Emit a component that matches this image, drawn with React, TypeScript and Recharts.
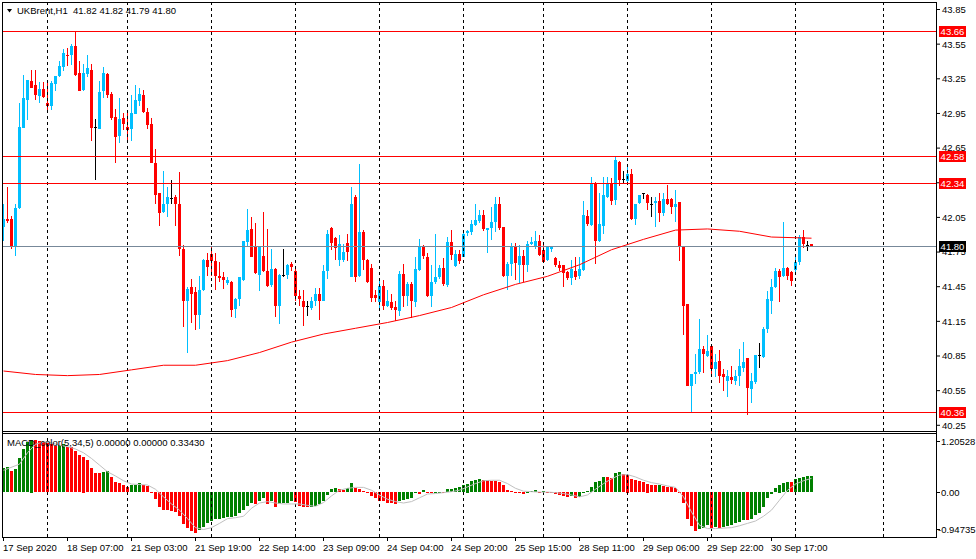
import React from 'react';
import { ComposedChart, Bar, Line, XAxis, YAxis, ReferenceLine } from 'recharts';

// H1 candles as [open, high, low, close], oldest first (17 Sep 2020 -> 30 Sep 2020)
const candles: number[][] = [
  [41.97, 42.17, 41.85, 42.04], [42.04, 42.31, 42.0, 42.02], [42.04, 42.06, 41.77, 41.8], [41.8, 42.17, 41.72, 42.13],
  [42.13, 43.04, 42.12, 42.83], [42.82, 43.28, 42.82, 43.08], [43.07, 43.24, 42.89, 43.24], [43.23, 43.33, 43.17, 43.17],
  [43.2, 43.33, 43.07, 43.11], [43.1, 43.22, 43.04, 43.16], [43.16, 43.22, 43.08, 43.09], [43.04, 43.23, 42.96, 43.01],
  [43.01, 43.23, 42.98, 43.21], [43.2, 43.27, 43.14, 43.27], [43.27, 43.4, 43.26, 43.36], [43.35, 43.51, 43.32, 43.47],
  [43.46, 43.52, 43.36, 43.45], [43.45, 43.55, 43.37, 43.53], [43.53, 43.66, 43.27, 43.28], [43.3, 43.4, 43.14, 43.14],
  [43.15, 43.38, 43.15, 43.3], [43.29, 43.46, 43.27, 43.34], [43.33, 43.38, 42.71, 42.83], [42.83, 42.9, 42.37, 42.83],
  [42.82, 43.23, 42.82, 43.14], [43.14, 43.35, 43.08, 43.3], [43.29, 43.3, 43.08, 43.11], [43.12, 43.14, 42.9, 42.91],
  [42.92, 42.99, 42.52, 42.75], [42.75, 43.08, 42.69, 42.9], [42.91, 42.95, 42.8, 42.86], [42.83, 42.95, 42.69, 42.8],
  [42.81, 43.11, 42.71, 42.95], [42.95, 43.2, 42.95, 43.07], [43.06, 43.17, 43.01, 43.12], [43.11, 43.15, 42.95, 42.96],
  [42.96, 43.0, 42.82, 42.85], [42.86, 42.91, 42.52, 42.52], [42.52, 42.64, 42.16, 42.24], [42.26, 42.26, 41.97, 42.09],
  [42.1, 42.45, 42.09, 42.17], [42.17, 42.31, 42.05, 42.23], [42.22, 42.37, 42.16, 42.22], [42.23, 42.24, 41.97, 42.17],
  [42.17, 42.44, 41.71, 41.78], [41.78, 41.81, 41.1, 41.33], [41.33, 41.45, 40.88, 41.43], [41.45, 41.52, 41.14, 41.39],
  [41.4, 41.45, 41.08, 41.2], [41.2, 41.54, 41.08, 41.42], [41.42, 41.69, 41.41, 41.68], [41.68, 41.74, 41.54, 41.62],
  [41.73, 41.8, 41.54, 41.67], [41.67, 41.74, 41.42, 41.54], [41.54, 41.66, 41.49, 41.52], [41.53, 41.58, 41.43, 41.5],
  [41.48, 41.53, 41.46, 41.51], [41.49, 41.5, 41.19, 41.25], [41.25, 41.35, 41.18, 41.34], [41.34, 41.53, 41.28, 41.53],
  [41.51, 41.85, 41.5, 41.85], [41.84, 42.12, 41.8, 41.94], [41.95, 42.05, 41.7, 41.71], [41.8, 42.0, 41.56, 41.57],
  [41.55, 41.79, 41.41, 41.79], [41.72, 42.1, 41.58, 41.59], [41.59, 41.95, 41.45, 41.46], [41.46, 41.78, 41.45, 41.6],
  [41.6, 41.61, 41.19, 41.28], [41.28, 41.56, 41.13, 41.55], [41.55, 41.78, 41.54, 41.55], [41.55, 41.65, 41.52, 41.64],
  [41.65, 41.66, 41.58, 41.62], [41.59, 41.6, 41.32, 41.37], [41.37, 41.42, 41.28, 41.34], [41.33, 41.42, 41.11, 41.28],
  [41.28, 41.33, 41.2, 41.28], [41.27, 41.36, 41.25, 41.33], [41.33, 41.44, 41.28, 41.39], [41.39, 41.44, 41.16, 41.33],
  [41.33, 41.64, 41.33, 41.59], [41.59, 41.94, 41.52, 41.91], [41.96, 41.97, 41.77, 41.83], [41.87, 41.88, 41.68, 41.78],
  [41.68, 41.9, 41.63, 41.82], [41.68, 41.82, 41.66, 41.75], [41.83, 41.91, 41.68, 41.75], [41.54, 42.31, 41.53, 42.17],
  [42.23, 42.24, 41.49, 41.54], [41.54, 42.51, 41.53, 41.92], [41.92, 41.94, 41.59, 41.68], [41.68, 41.69, 41.48, 41.49],
  [41.61, 41.65, 41.32, 41.35], [41.38, 41.42, 41.32, 41.35], [41.32, 41.51, 41.25, 41.46], [41.46, 41.51, 41.25, 41.29],
  [41.29, 41.42, 41.27, 41.33], [41.32, 41.39, 41.25, 41.27], [41.27, 41.33, 41.16, 41.24], [41.24, 41.59, 41.2, 41.56],
  [41.56, 41.65, 41.28, 41.37], [41.37, 41.49, 41.28, 41.47], [41.47, 41.49, 41.18, 41.32], [41.31, 41.71, 41.28, 41.6],
  [41.59, 41.86, 41.58, 41.8], [41.8, 41.81, 41.69, 41.71], [41.71, 41.74, 41.36, 41.37], [41.37, 41.64, 41.28, 41.49],
  [41.49, 41.91, 41.48, 41.53], [41.53, 41.64, 41.52, 41.61], [41.61, 41.7, 41.46, 41.47], [41.47, 41.88, 41.45, 41.84],
  [41.84, 41.94, 41.68, 41.73], [41.63, 41.77, 41.62, 41.73], [41.73, 41.77, 41.65, 41.67], [41.71, 41.94, 41.71, 41.91],
  [41.91, 41.94, 41.89, 41.93], [41.92, 42.03, 41.9, 41.99], [41.99, 42.17, 41.98, 42.03], [42.02, 42.11, 42.0, 42.07],
  [42.07, 42.11, 41.93, 41.95], [41.94, 41.96, 41.74, 41.96], [41.96, 42.14, 41.85, 42.01], [42.01, 42.23, 41.93, 42.17],
  [42.17, 42.23, 41.94, 41.96], [41.97, 41.97, 41.54, 41.55], [41.55, 41.66, 41.42, 41.65], [41.64, 41.83, 41.54, 41.8],
  [41.8, 41.83, 41.51, 41.65], [41.64, 41.81, 41.48, 41.72], [41.72, 41.77, 41.49, 41.64], [41.64, 41.85, 41.58, 41.82],
  [41.82, 41.88, 41.81, 41.84], [41.81, 41.93, 41.77, 41.85], [41.85, 41.9, 41.72, 41.73], [41.77, 41.81, 41.65, 41.67],
  [41.68, 41.8, 41.67, 41.8], [41.77, 41.8, 41.75, 41.8], [41.7, 41.71, 41.62, 41.64], [41.64, 41.67, 41.58, 41.61],
  [41.64, 41.64, 41.45, 41.57], [41.58, 41.59, 41.51, 41.53], [41.52, 41.68, 41.46, 41.6], [41.59, 41.71, 41.51, 41.54],
  [41.54, 41.71, 41.52, 41.6], [41.59, 42.19, 41.58, 42.07], [42.06, 42.11, 41.97, 41.99], [41.99, 42.4, 41.98, 42.35],
  [42.35, 42.36, 41.65, 41.85], [41.84, 42.26, 41.84, 41.99], [41.97, 42.4, 41.91, 42.24], [42.23, 42.4, 42.22, 42.35],
  [42.35, 42.39, 42.16, 42.19], [42.2, 42.58, 42.16, 42.55], [42.53, 42.54, 42.32, 42.37], [42.38, 42.45, 42.34, 42.38],
  [42.37, 42.49, 42.36, 42.43], [42.43, 42.47, 42.03, 42.04], [42.04, 42.17, 41.99, 42.17], [42.17, 42.24, 42.16, 42.24],
  [42.26, 42.26, 42.21, 42.26], [42.24, 42.25, 42.11, 42.17], [42.17, 42.23, 42.06, 42.17], [42.17, 42.23, 41.97, 42.19],
  [42.19, 42.26, 42.01, 42.09], [42.09, 42.26, 42.06, 42.21], [42.21, 42.33, 42.16, 42.17], [42.21, 42.22, 42.08, 42.14],
  [42.14, 42.29, 42.01, 42.17], [42.18, 42.18, 41.67, 41.79], [41.8, 41.8, 41.03, 41.28], [41.3, 41.3, 40.59, 40.59],
  [40.59, 40.69, 40.35, 40.69], [40.69, 40.87, 40.61, 40.71], [40.71, 41.17, 40.69, 40.91], [40.91, 40.94, 40.71, 40.87],
  [40.85, 41.03, 40.84, 40.89], [40.94, 40.94, 40.68, 40.74], [40.74, 40.87, 40.67, 40.8], [40.81, 40.9, 40.61, 40.68],
  [40.69, 40.74, 40.55, 40.66], [40.64, 40.73, 40.5, 40.68], [40.67, 40.76, 40.6, 40.64], [40.64, 40.73, 40.6, 40.68],
  [40.67, 40.91, 40.59, 40.76], [40.75, 40.97, 40.71, 40.8], [40.83, 40.83, 40.34, 40.57], [40.56, 40.7, 40.44, 40.63],
  [40.63, 40.86, 40.61, 40.86], [40.86, 40.96, 40.74, 40.86], [40.84, 41.1, 40.83, 41.08], [41.08, 41.41, 41.05, 41.34],
  [41.33, 41.52, 41.22, 41.45], [41.45, 41.61, 41.44, 41.59], [41.59, 41.6, 41.31, 41.54], [41.54, 42.01, 41.53, 41.61],
  [41.61, 41.62, 41.51, 41.54], [41.58, 41.59, 41.46, 41.5], [41.59, 41.72, 41.58, 41.66], [41.66, 41.9, 41.64, 41.88],
  [41.88, 41.94, 41.78, 41.82], [41.81, 41.85, 41.76, 41.81], [41.82, 41.82, 41.79, 41.8],
];

// red moving average, read at [bar, price]
const maPoints: number[][] = [
  [0, 40.72], [8, 40.69], [16, 40.68], [24, 40.69], [32, 40.73], [40, 40.77], [48, 40.77], [56, 40.81],
  [64, 40.88], [72, 40.97], [80, 41.04], [88, 41.09], [96, 41.14], [104, 41.2], [112, 41.27], [120, 41.38],
  [128, 41.47], [136, 41.54], [144, 41.64], [152, 41.77], [160, 41.86], [168, 41.94], [176, 41.95], [184, 41.93],
  [192, 41.88], [202, 41.87],
];

// MACD_color(5,34,5) histogram, one value per bar
const macdHist: number[] = [
  0.5, 0.52, 0.45, 0.48, 0.71, 0.91, 1.06, 1.11, 1.1, 1.08,
  1.05, 1.03, 1.01, 0.98, 1.0, 1.01, 0.96, 0.95, 0.87, 0.78,
  0.75, 0.68, 0.5, 0.41, 0.4, 0.43, 0.44, 0.32, 0.22, 0.2,
  0.15, 0.11, 0.14, 0.15, 0.2, 0.15, 0.13, -0.03, -0.15, -0.31,
  -0.38, -0.39, -0.4, -0.42, -0.51, -0.68, -0.77, -0.82, -0.87, -0.8,
  -0.73, -0.66, -0.61, -0.58, -0.56, -0.54, -0.53, -0.52, -0.51, -0.45,
  -0.38, -0.3, -0.23, -0.25, -0.19, -0.13, -0.25, -0.2, -0.32, -0.25,
  -0.24, -0.23, -0.2, -0.21, -0.3, -0.31, -0.32, -0.31, -0.3, -0.25,
  -0.18, -0.06, 0.07, 0.08, 0.06, 0.04, 0.08, 0.2, 0.08, 0.06,
  0.03, 0.01, -0.08, -0.13, -0.18, -0.2, -0.23, -0.24, -0.25, -0.18,
  -0.17, -0.15, -0.13, -0.03, -0.04, 0.04, -0.01, -0.03, -0.01, 0.0,
  -0.01, 0.06, 0.07, 0.08, 0.1, 0.15, 0.18, 0.23, 0.25, 0.27,
  0.26, 0.25, 0.24, 0.23, 0.22, 0.15, 0.04, 0.03, 0.0, -0.01,
  -0.04, -0.03, 0.02, 0.04, 0.01, 0.02, 0.01, -0.01, -0.04, -0.06,
  -0.08, -0.1, -0.08, -0.13, -0.1, -0.03, 0.03, 0.11, 0.22, 0.24,
  0.32, 0.31, 0.3, 0.41, 0.42, 0.38, 0.37, 0.27, 0.25, 0.24,
  0.21, 0.18, 0.15, 0.14, 0.15, 0.13, 0.11, 0.1, 0.09, -0.03,
  -0.24, -0.58, -0.72, -0.82, -0.79, -0.75, -0.7, -0.77, -0.73, -0.75,
  -0.73, -0.72, -0.7, -0.66, -0.63, -0.59, -0.6, -0.56, -0.49, -0.45,
  -0.31, -0.13, -0.04, 0.09, 0.16, 0.2, 0.22, 0.21, 0.27, 0.3,
  0.32, 0.33, 0.34,
];

// silver signal line, read at [bar, value]
const signalPoints: number[][] = [
  [0, 0.46], [4, 0.59], [6, 0.83], [8, 1.01], [10, 1.06], [12, 1.04], [14, 0.99], [16, 0.96], [18, 0.91],
  [20, 0.83], [22, 0.71], [24, 0.57], [26, 0.43], [28, 0.34], [30, 0.24], [32, 0.17], [34, 0.16], [36, 0.15],
  [38, 0.06], [40, -0.1], [42, -0.25], [44, -0.38], [46, -0.56], [48, -0.75], [50, -0.79], [52, -0.75],
  [54, -0.66], [56, -0.56], [58, -0.54], [60, -0.51], [62, -0.34], [64, -0.23], [66, -0.2], [68, -0.23],
  [70, -0.25], [72, -0.25], [74, -0.25], [76, -0.28], [78, -0.3], [80, -0.22], [82, -0.08], [84, 0.04],
  [86, 0.08], [88, 0.1], [90, 0.1], [92, 0.04], [94, -0.06], [96, -0.15], [98, -0.2], [100, -0.23],
  [102, -0.2], [104, -0.12], [106, -0.04], [108, -0.03], [110, -0.01], [112, 0.01], [114, 0.04], [116, 0.11],
  [118, 0.18], [120, 0.24], [122, 0.25], [124, 0.25], [126, 0.18], [128, 0.08], [130, 0.02], [132, 0.01],
  [134, 0.0], [136, 0.0], [138, -0.01], [140, -0.03], [142, -0.06], [144, -0.1], [146, -0.06], [148, 0.06],
  [150, 0.18], [152, 0.28], [154, 0.36], [156, 0.37], [158, 0.32], [160, 0.25], [162, 0.2], [164, 0.17],
  [166, 0.13], [168, 0.1], [170, -0.1], [172, -0.42], [174, -0.7], [176, -0.77], [178, -0.77], [180, -0.76],
  [182, -0.75], [184, -0.71], [186, -0.66], [188, -0.61], [190, -0.51], [192, -0.38], [194, -0.17], [196, 0.04],
  [198, 0.17], [200, 0.24], [202, 0.29],
];

const timeLabels = [
  '17 Sep 2020', '18 Sep 07:00', '21 Sep 03:00', '21 Sep 19:00', '22 Sep 14:00', '23 Sep 09:00', '24 Sep 04:00',
  '24 Sep 20:00', '25 Sep 15:00', '28 Sep 11:00', '29 Sep 06:00', '29 Sep 22:00', '30 Sep 17:00',
];
const labelBars = [0, 16, 32, 48, 64, 80, 96, 112, 128, 144, 160, 176, 192];
const daySeparators = [11, 31, 52, 73, 94, 115, 135, 156, 177, 198, 220];

const levels = [43.66, 42.58, 42.34, 40.36];
const lastPrice = 41.8;
const priceTicks = [43.85, 43.55, 43.25, 42.95, 42.65, 42.35, 42.05, 41.75, 41.45, 41.15, 40.85, 40.55, 40.25];
const macdTicks = [1.20528, 0, -0.94735];

const BLUE = '#00bfff';
const RED = '#ff0000';
const GREEN = '#008000';
const FONT = '"Liberation Sans", Arial, sans-serif';
const FS = 9.5;

const X_DOMAIN: [number, number] = [-0.375, 233.125];
const PRICE_DOMAIN: [number, number] = [40.2006, 43.915];

const priceRows: any[] = candles.map(([o, h, l, c], i) => ({ i, o, h, l, c, range: [l, h], ma: null }));
maPoints.forEach(([i, v]) => { priceRows[i].ma = v; });

const macdRows: any[] = macdHist.map((v, i) => ({ i, hist: v, up: i === 0 || v >= macdHist[i - 1], sig: null }));
signalPoints.forEach(([i, v]) => { macdRows[i].sig = v; });

const Candle = (props: any) => {
  const { x, y, width, height, payload } = props;
  if (!payload) return null;
  const { o, h, l, c } = payload;
  const top = Math.min(y, y + height);
  const span = Math.abs(height);
  const k = h > l ? span / (h - l) : 0;
  const yO = top + (h - o) * k;
  const yC = top + (h - c) * k;
  const color = c > o ? BLUE : c < o ? RED : '#000';
  const left = Math.round(x + width / 2 - 1.5);
  const bodyTop = Math.round(Math.min(yO, yC));
  const bodyH = c === o ? 1 : Math.max(1, Math.round(Math.abs(yC - yO)));
  return (
    <g>
      <rect x={left + 1} y={Math.round(top)} width={1} height={Math.max(1, Math.round(span))} fill={color} />
      <rect x={left} y={bodyTop} width={3} height={bodyH} fill={color} />
    </g>
  );
};

const HistBar = (props: any) => {
  const { x, y, width, height, payload } = props;
  if (!payload) return null;
  const top = Math.round(Math.min(y, y + height));
  const h = Math.max(1, Math.round(Math.abs(height)));
  return <rect x={Math.round(x + width / 2 - 1.5)} y={top} width={3} height={h} fill={payload.up ? GREEN : RED} />;
};

const CrispHLine = (props: any) => {
  const { x1, x2, y1, stroke } = props;
  const yy = Math.floor(y1) + 0.5;
  return <line x1={x1} x2={x2} y1={yy} y2={yy} stroke={stroke} strokeWidth={1} />;
};

const NoLine = () => null;

const priceTag = (text: string, bg: string) => (props: any) => {
  const vb = props.viewBox;
  if (!vb) return null;
  const yy = Math.floor(vb.y);
  return (
    <g>
      <rect x={939} y={yy - 5} width={27} height={11} fill={bg} />
      <text x={952.5} y={yy + 0.5} dy="0.35em" textAnchor="middle" fill="#fff" fontSize={FS} fontFamily={FONT}>
        {text}
      </text>
    </g>
  );
};

const MacdTick = (props: any) => {
  const { y, payload } = props;
  const v = payload.value;
  const yy = Math.round(y + (v > 0.5 ? 6 : v < -0.5 ? -8 : 0)) + 0.5;
  return (
    <g>
      <line x1={936} x2={940} y1={yy} y2={yy} stroke="#000" />
      <text x={v < 0 ? 938 : 941} y={yy} dy="0.35em" fontSize={FS} fill="#000" fontFamily={FONT}>
        {v === 0 ? '0.00' : v.toFixed(5)}
      </text>
    </g>
  );
};

const TimeTick = (props: any) => {
  const { x, payload } = props;
  const k = labelBars.indexOf(payload.value);
  const xx = Math.floor(x) + 0.5;
  return (
    <g>
      <line x1={xx} x2={xx} y1={104} y2={108} stroke="#000" />
      <text x={xx - 0.5} y={118} fontSize={FS} fill="#000" fontFamily={FONT}>
        {timeLabels[k]}
      </text>
    </g>
  );
};

const App: React.FC = () => {
  return (
    <div style={{ position: 'absolute', left: 0, top: 0, width: 976, height: 559, background: '#fff', overflow: 'hidden', fontFamily: FONT }}>
      <div style={{ position: 'absolute', left: 0, top: 0 }}>
        <ComposedChart width={976} height={433} data={priceRows} margin={{ top: 2, right: 0, bottom: 2, left: 2 }}>
          <XAxis type="number" dataKey="i" domain={X_DOMAIN} allowDataOverflow hide />
          <YAxis
            orientation="right"
            type="number"
            domain={PRICE_DOMAIN}
            allowDataOverflow
            ticks={priceTicks}
            interval={0}
            width={40}
            axisLine={false}
            tickSize={4}
            tickLine={{ stroke: '#000' }}
            tick={{ fontSize: FS, fill: '#000', fontFamily: FONT }}
            tickFormatter={(v: number) => v.toFixed(2)}
          />
          {daySeparators.map((d) => (
            <ReferenceLine key={`d-${d}`} x={d} stroke="#000" strokeDasharray="3 3" />
          ))}
          <ReferenceLine y={lastPrice} stroke="#778899" shape={CrispHLine} />
          {levels.map((lv) => (
            <ReferenceLine key={`l-${lv}`} y={lv} stroke={RED} shape={CrispHLine} />
          ))}
          <Bar dataKey="range" barSize={3} shape={Candle} isAnimationActive={false} />
          <Line dataKey="ma" type="linear" stroke={RED} strokeWidth={1} dot={false} activeDot={false} connectNulls isAnimationActive={false} />
        </ComposedChart>
      </div>
      {/* price tags sit above the axis labels, as in the terminal */}
      <div style={{ position: 'absolute', left: 0, top: 0 }}>
        <ComposedChart width={976} height={433} data={priceRows} margin={{ top: 2, right: 40, bottom: 2, left: 2 }}>
          <XAxis type="number" dataKey="i" domain={X_DOMAIN} allowDataOverflow hide />
          <YAxis type="number" domain={PRICE_DOMAIN} allowDataOverflow hide />
          <ReferenceLine y={lastPrice} stroke="#778899" shape={NoLine} label={priceTag(lastPrice.toFixed(2), '#000')} />
          {levels.map((lv) => (
            <ReferenceLine key={`t-${lv}`} y={lv} stroke={RED} shape={NoLine} label={priceTag(lv.toFixed(2), RED)} />
          ))}
        </ComposedChart>
      </div>
      <div style={{ position: 'absolute', left: 0, top: 433 }}>
        <ComposedChart width={976} height={126} data={macdRows} margin={{ top: 2, right: 0, bottom: 0, left: 2 }}>
          <XAxis
            type="number"
            dataKey="i"
            domain={X_DOMAIN}
            allowDataOverflow
            ticks={labelBars}
            interval={0}
            height={22}
            axisLine={false}
            tickLine={false}
            tick={<TimeTick />}
          />
          <YAxis
            orientation="right"
            type="number"
            domain={[macdTicks[2], macdTicks[0]]}
            allowDataOverflow
            ticks={macdTicks}
            interval={0}
            width={40}
            axisLine={false}
            tickLine={false}
            tick={<MacdTick />}
          />
          {daySeparators.map((d) => (
            <ReferenceLine key={`m-${d}`} x={d} stroke="#000" strokeDasharray="3 3" />
          ))}
          <Bar dataKey="hist" barSize={3} shape={HistBar} isAnimationActive={false} />
          <Line dataKey="sig" type="linear" stroke="#c0c0c0" strokeWidth={1} dot={false} activeDot={false} connectNulls isAnimationActive={false} />
        </ComposedChart>
      </div>
      <svg width={976} height={559} style={{ position: 'absolute', left: 0, top: 0, pointerEvents: 'none' }}>
        <g stroke="#000" strokeWidth={1}>
          <line x1={2.5} x2={2.5} y1={2} y2={538} />
          <line x1={936.5} x2={936.5} y1={2} y2={538} />
          <line x1={2} x2={937} y1={2.5} y2={2.5} />
          <line x1={2} x2={937} y1={431.5} y2={431.5} />
          <line x1={2} x2={937} y1={433.5} y2={433.5} />
          <line x1={2} x2={937} y1={537.5} y2={537.5} />
        </g>
        <polygon points="7,9 12,9 9.5,12.5" fill="#000" />
        <text x={17} y={14} fontSize={FS} fontFamily={FONT} fill="#000" xmlSpace="preserve" style={{ whiteSpace: 'pre' }}>
          UKBrent,H1  41.82 41.82 41.79 41.80
        </text>
        <text x={7} y={446} fontSize={FS} fontFamily={FONT} fill="#000" xmlSpace="preserve" style={{ whiteSpace: 'pre' }}>
          MACD_color(5,34,5) 0.00000 0.00000 0.33430
        </text>
      </svg>
    </div>
  );
};

export default App;
